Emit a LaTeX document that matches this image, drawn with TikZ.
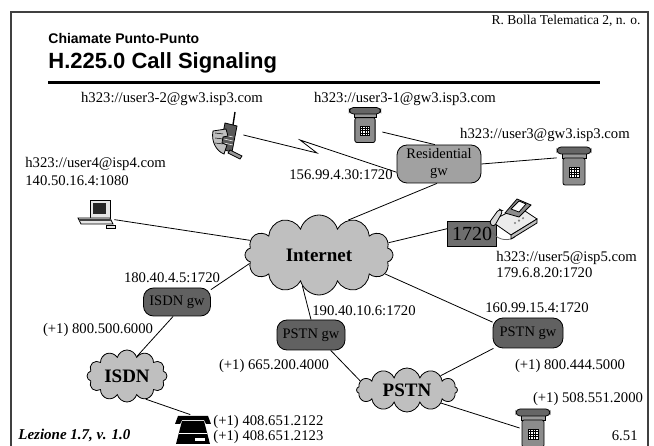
\documentclass[tikz,border=0pt]{standalone}
\usepackage{fontspec}
\setmainfont{Liberation Serif}
\setsansfont{Liberation Sans}
\usetikzlibrary{shapes.symbols}

% little devices, drawn with y pointing down
\tikzset{
  deskphone/.pic={
    \draw[fill=black!40] (-12,-13) rectangle (12,-8);
    \draw[fill=black!60, rounded corners=4pt] (-17,-19) rectangle (17,-12);
    \draw[fill=black!45, rounded corners=2pt] (-11,-8) rectangle (11,19);
    \draw[fill=white, line width=.6pt] (-5,1) rectangle (5,11);
    \foreach \k in {3.5,6,8.5} \draw[line width=.6pt] (-5,\k) -- (5,\k);
    \foreach \k in {-2.5,0,2.5} \draw[line width=.6pt] (\k,1) -- (\k,11);
  },
  cellphone/.pic={
    \draw[line width=1.4pt] (5,-10) -- (7,-23);
    \draw[fill=black!65] (-3,-12) -- (9,-9) -- (4,17) -- (-8,14) -- cycle;
    \foreach \k in {0,4,8} \draw[white, line width=.5pt] (-4,\k) -- (5,\k+2);
    \draw[fill=black!40] (2,15) -- (14,21) -- (12,24) -- (0,18) -- cycle;
    \draw[fill=black!25] (-15,-4) .. controls (-17,6) and (-12,16) .. (-4,19)
      -- (-1,10) -- (-6,8) -- (-5,2) -- (0,1) -- (-2,-6) -- cycle;
    \foreach \k in {-2,3,8} \draw[line width=.5pt] (-13,\k) -- (-5,\k+1);
  },
  computer/.pic={
    \draw[fill=black!10] (-6,-14) rectangle (14,4);
    \fill[black!85] (-3,-11) rectangle (10,0);
    \draw[fill=black!10] (-18,4) -- (14,4) -- (17,10) -- (-15,10) -- cycle;
    \fill[black!75] (-17,5.5) rectangle (15,7.5);
    \draw[fill=black!10, line width=.5pt] (10,11) rectangle (19,14);
  },
  faxmachine/.pic={
    \draw[black!60] (-20,14) .. controls (-14,22) and (-4,22) .. (2,18);
    \draw[fill=black!8] (-22,2) -- (6,-12) -- (24,0) -- (-2,16) -- cycle;
    \draw[fill=black!25] (-2,16) -- (24,0) -- (24,4) -- (-2,20) -- cycle;
    \draw[fill=black!45] (-8,-6) -- (4,-20) -- (18,-14) -- (6,-2) -- cycle;
    \draw[fill=white] (-2,-10) -- (6,-18) -- (13,-15) -- (6,-7) -- cycle;
    \draw[fill=black!15, rounded corners=3pt] (-24,4) -- (-14,-10) -- (-10,-8) -- (-19,8) -- cycle;
    \foreach \k in {0,4,8} \fill[black!50] (2+\k,4-\k*.6) circle (1.2pt);
  },
  blackphone/.pic={
    \fill (-18,-6) -- (-15,-14) -- (15,-14) -- (18,-6) -- (13,-6) -- (11,-10)
      -- (-11,-10) -- (-13,-6) -- cycle;
    \fill (-11,-9) -- (11,-9) -- (17,14) -- (-17,14) -- cycle;
    \draw[white, line width=.8pt] (-14,3) -- (14,3);
    \fill[white] (2,8) rectangle (12,11);
  }
}

\begin{document}
\begin{tikzpicture}[x=1pt, y=-1pt, line width=.8pt,
  lbl/.style={font=\fontsize{14.7}{16}\selectfont, inner sep=0pt, text height=9.7pt, text depth=0pt},
  net/.style={cloud, cloud puffs=12, cloud ignores aspect, draw, fill=black!25, inner sep=0pt,
    font=\fontsize{19}{20}\selectfont\bfseries},
  gw/.style={draw, rounded corners=10pt, inner sep=0pt, align=center,
    font=\fontsize{14.5}{17}\selectfont},
  icon/.style={inner sep=0pt}]
\useasboundingbox (0,0) rectangle (654,446);

% frame and heading
\draw[black!75, line width=1.3pt] (11,446) -- (11,12) -- (648,12) -- (648,446);
\node[anchor=base east, inner sep=0pt, font=\fontsize{13.5}{14}\selectfont] (author) at (641,25) {R. Bolla Telematica 2, n. o.};
\node[anchor=base west, inner sep=0pt, font=\sffamily\bfseries\fontsize{14}{16}\selectfont] (subtitle) at (48,44) {Chiamate Punto-Punto};
\node[anchor=base west, inner sep=0pt, font=\sffamily\bfseries\fontsize{22}{26}\selectfont] (title) at (48,69) {H.225.0 Call Signaling};
\draw[line width=3pt] (48,83) -- (600,83);

% networks
\node[net, minimum width=148pt, minimum height=80pt] (inet) at (319,255) {Internet};
\node[net, minimum width=80pt, minimum height=52pt] (isdn) at (127,376) {ISDN};
\node[net, minimum width=101pt, minimum height=44pt] (pstn) at (407,390) {PSTN};

% gateways
\node[gw, fill=black!37, minimum width=84pt, minimum height=38pt] (resgw) at (439,164) {Residential\\gw};
\node[gw, fill=black!62, minimum width=67pt, minimum height=28pt] (isdngw) at (177,302) {ISDN gw};
\node[gw, fill=black!62, minimum width=68pt, minimum height=30pt] (pstngwA) at (311,335) {PSTN gw};
\node[gw, fill=black!62, minimum width=70pt, minimum height=30pt] (pstngwB) at (528,333) {PSTN gw};
\node[draw, fill=black!57, inner sep=0pt, minimum width=49pt, minimum height=25pt,
  font=\fontsize{20}{20}\selectfont] (port) at (472,234) {1720};

% terminals
\node[icon, minimum width=30pt, minimum height=46pt] (cell) at (228,135) {};
\node[icon, minimum width=34pt, minimum height=34pt] (phoneA) at (365,125) {};
\node[icon, minimum width=34pt, minimum height=38pt] (phoneB) at (574,166) {};
\node[icon, minimum width=36pt, minimum height=28pt] (pc) at (96,214) {};
\node[icon, minimum width=48pt, minimum height=46pt] (fax) at (513,219) {};
\node[icon, minimum width=36pt, minimum height=30pt] (isdnphone) at (193,430) {};
\node[icon, minimum width=26pt, minimum height=38pt] (phoneC) at (533,428) {};
\pic at (cell) {cellphone};
\pic[scale=.92] at (phoneA) {deskphone};
\pic at (phoneB) {deskphone};
\pic at (pc) {computer};
\pic at (fax) {faxmachine};
\pic at (isdnphone) {blackphone};
\pic at (phoneC) {deskphone};

% addresses
\node[lbl] (cellurl) at (172,98) {h323://user3-2@gw3.isp3.com};
\node[lbl] (phoneAurl) at (405,98) {h323://user3-1@gw3.isp3.com};
\node[lbl] (phoneBurl) at (545,134) {h323://user3@gw3.isp3.com};
\node[lbl] (resip) at (341,175) {156.99.4.30:1720};
\node[lbl, anchor=west] (pcurl) at (25,163) {h323://user4@isp4.com};
\node[lbl, anchor=west] (pcip) at (25,181) {140.50.16.4:1080};
\node[lbl, anchor=west] (faxurl) at (496,257) {h323://user5@isp5.com};
\node[lbl, anchor=west] (faxip) at (496,273) {179.6.8.20:1720};
\node[lbl] (isdngwip) at (172,278) {180.40.4.5:1720};
\node[lbl] (isdngwnum) at (98,329) {(+1) 800.500.6000};
\node[lbl] (pstnAip) at (364,311) {190.40.10.6:1720};
\node[lbl] (pstnAnum) at (274,365) {(+1) 665.200.4000};
\node[lbl] (pstnBip) at (537,308) {160.99.15.4:1720};
\node[lbl] (pstnBnum) at (570,365) {(+1) 800.444.5000};
\node[lbl] (phoneCnum) at (588,398) {(+1) 508.551.2000};
\node[lbl, anchor=west] (isdnnumA) at (213,421) {(+1) 408.651.2122};
\node[lbl, anchor=west] (isdnnumB) at (213,436) {(+1) 408.651.2123};
\node[anchor=base west, inner sep=0pt, font=\fontsize{15}{16}\selectfont\bfseries\itshape] (lesson) at (18,440) {Lezione 1.7, v. 1.0};
\node[lbl, anchor=east] (page) at (638,436) {6.51};

% links
\coordinate (zz1) at (317,153);
\coordinate (zz2) at (300,140);
\draw (cell.east) -- (zz1) -- (zz2) -- (resgw.191);
\draw (phoneA.-22) -- (resgw.102);
\draw (resgw.east) -- (phoneB.155);
\draw (resgw.264) -- (inet.50);
\draw (pc.-17) -- (inet.168);
\draw (inet.10) -- (port.168);
\draw (inet.187) -- (isdngw.20);
\draw (isdngw.255) -- (isdn.63);
\draw (isdn.309) -- (isdnphone.100);
\draw (inet.242) -- (pstngwA.north);
\draw (pstngwA.322) -- (pstn.169);
\draw (inet.344) -- (pstngwB.163);
\draw (pstngwB.204) -- (pstn.23);
\draw (pstn.339) -- (phoneC.west);
\end{tikzpicture}
\end{document}
